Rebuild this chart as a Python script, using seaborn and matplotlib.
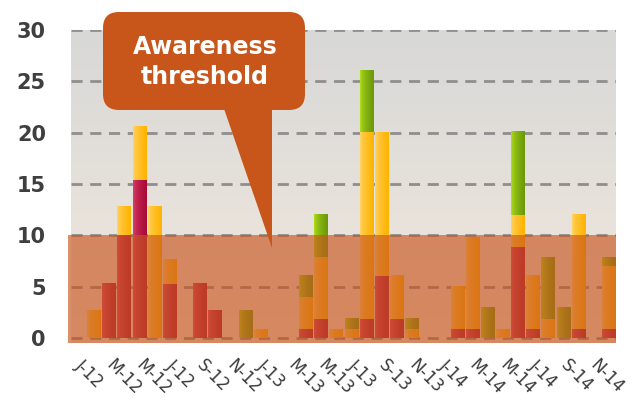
import numpy as np
import pandas as pd
import matplotlib
matplotlib.use("Agg")
import matplotlib.pyplot as plt
import seaborn as sns
from matplotlib.patches import Rectangle, FancyBboxPatch, Polygon
from matplotlib.colors import to_rgb

# ---------------- data ----------------
months = ["Jan-12", "Feb-12", "Mar-12", "Apr-12", "May-12", "Jun-12",
          "Jul-12", "Aug-12", "Sep-12", "Oct-12", "Nov-12", "Dec-12",
          "Jan-13", "Feb-13", "Mar-13", "Apr-13", "May-13", "Jun-13",
          "Jul-13", "Aug-13", "Sep-13", "Oct-13", "Nov-13", "Dec-13",
          "Jan-14", "Feb-14", "Mar-14", "Apr-14", "May-14", "Jun-14",
          "Jul-14", "Aug-14", "Sep-14", "Oct-14", "Nov-14", "Dec-14"]
crimson = [0, 0, 5.3, 10.0, 15.3, 0, 5.2, 0, 5.3, 2.7, 0, 0,
           0, 0, 0, 0.8, 1.8, 0, 0, 1.8, 6.0, 1.8, 0, 0,
           0, 0.8, 0.8, 0, 0, 8.8, 0.8, 0, 0, 0.8, 0, 0.8]
yellow = [0, 2.7, 0, 2.8, 5.3, 12.8, 2.4, 0, 0, 0, 0, 0,
          0.8, 0, 0, 3.1, 6.0, 0.8, 0.8, 18.2, 14.0, 4.3, 0.8, 0,
          0, 4.2, 9.0, 0, 0.8, 3.1, 5.3, 1.8, 0, 11.2, 0, 6.2]
green = [0, 0, 0, 0, 0, 0, 0, 0, 0, 0, 0, 2.7,
         0, 0, 0, 2.2, 4.2, 0, 1.1, 6.0, 0, 0, 1.1, 0,
         0, 0, 0, 3.0, 0, 8.2, 0, 6.0, 3.0, 0, 0, 0.8]
tick_labels = ["J-12", "M-12", "M-12", "J-12", "S-12", "N-12",
               "J-13", "M-13", "M-13", "J-13", "S-13", "N-13",
               "J-14", "M-14", "M-14", "J-14", "S-14", "N-14"]
y_ticks = [0, 5, 10, 15, 20, 25, 30]
threshold = 10
callout_text = "Awareness\nthreshold"

# ---------------- style ----------------
sns.set_theme(style="white")
plt.rcParams["font.family"] = ["DejaVu Sans"]
plt.rcParams["lines.scale_dashes"] = False

W, H = 634, 405
fig = plt.figure(figsize=(W / 100, H / 100), dpi=100)
fig.patch.set_facecolor("white")
ax = fig.add_axes([71 / W, 1 - 343 / H, 545 / W, 313 / H])
ax.set_facecolor("none")


def hgrad(c_left, c_right, n=64, gamma=1.0):
    t = np.linspace(0, 1, n) ** gamma
    a = np.array(to_rgb(c_left))
    b = np.array(to_rgb(c_right))
    return (a[None, :] * (1 - t[:, None]) + b[None, :] * t[:, None])[None, :, :]


df = pd.DataFrame({"month": months, "crimson": crimson,
                   "yellow": yellow, "green": green})
df["lvl1"] = df["crimson"]
df["lvl2"] = df["crimson"] + df["yellow"]
df["lvl3"] = df["lvl2"] + df["green"]

layers = [("lvl3", "#B8E61F", "#6A980A"),
          ("lvl2", "#FFD872", "#FFB300"),
          ("lvl1", "#E2436F", "#A60A36")]
for i, (col, cl, cr) in enumerate(layers):
    n0 = len(ax.patches)
    sns.barplot(data=df, x="month", y=col, order=months, color=cr,
                saturation=1, width=0.86, errorbar=None, ax=ax)
    grad = hgrad(cl, cr, gamma=0.55)
    for p in ax.patches[n0:]:
        p.set_visible(False)
        h = p.get_height()
        if h <= 0:
            continue
        x0, w, y0 = p.get_x(), p.get_width(), p.get_y()
        ax.imshow(grad, extent=[x0, x0 + w, y0, y0 + h], aspect="auto",
                  interpolation="bilinear", zorder=2 + 0.1 * i)

# background vertical gradient
bg = np.linspace(0, 1, 128)[:, None]
top = np.array(to_rgb("#D8D8D7"))
bot = np.array(to_rgb("#F2E9DD"))
bg_img = (top[None, None, :] * (1 - bg[:, :, None]) + bot[None, None, :] * bg[:, :, None])
ax.imshow(bg_img, extent=[-0.5, 35.5, -0.47, 30], aspect="auto",
          interpolation="bilinear", zorder=0)

# dashed grid
for v in y_ticks:
    ax.axhline(v, color="#8E8E8E", lw=2.0, dashes=(8, 5.5), zorder=1)

# threshold band
ax.add_patch(Rectangle((-0.7, -0.47), 36.2, threshold + 0.47,
                       facecolor=(200 / 255, 85 / 255, 30 / 255), alpha=0.65,
                       lw=0, zorder=3, clip_on=False))

ax.set_xlim(-0.5, 35.5)
ax.set_ylim(-0.47, 30)
ax.set_xlabel("")
ax.set_ylabel("")
for s in ax.spines.values():
    s.set_visible(False)
ax.set_yticks(y_ticks)
ax.set_yticklabels([str(t) for t in y_ticks], fontsize=15, fontweight="bold",
                   color="#3F3F3F")
ax.set_xticks(range(0, len(months), 2))
ax.set_xticklabels(tick_labels, fontsize=12, color="#3A3A3A", rotation=-45,
                   ha="left", va="center", rotation_mode="anchor")
ax.tick_params(axis="y", length=0, pad=18)
ax.tick_params(axis="x", length=0, pad=14)


# ---------------- callout ----------------
def P(x, y):
    return (x / 100, (H - y) / 100)


callout_color = "#C8561B"
box = FancyBboxPatch(P(103, 110), 2.02, 0.98,
                     boxstyle="round,pad=0,rounding_size=0.16",
                     transform=fig.dpi_scale_trans, fc=callout_color,
                     ec="none", zorder=10)
fig.add_artist(box)
tri = Polygon([P(221, 100), P(272, 100), P(272, 248)], closed=True,
              transform=fig.dpi_scale_trans, fc=callout_color, ec="none",
              zorder=10)
fig.add_artist(tri)
fig.text(*P(205, 62), callout_text, transform=fig.dpi_scale_trans,
         ha="center", va="center", color="white", fontsize=17,
         fontweight="bold", linespacing=1.35, zorder=11)

fig.savefig("out.png", dpi=100)
